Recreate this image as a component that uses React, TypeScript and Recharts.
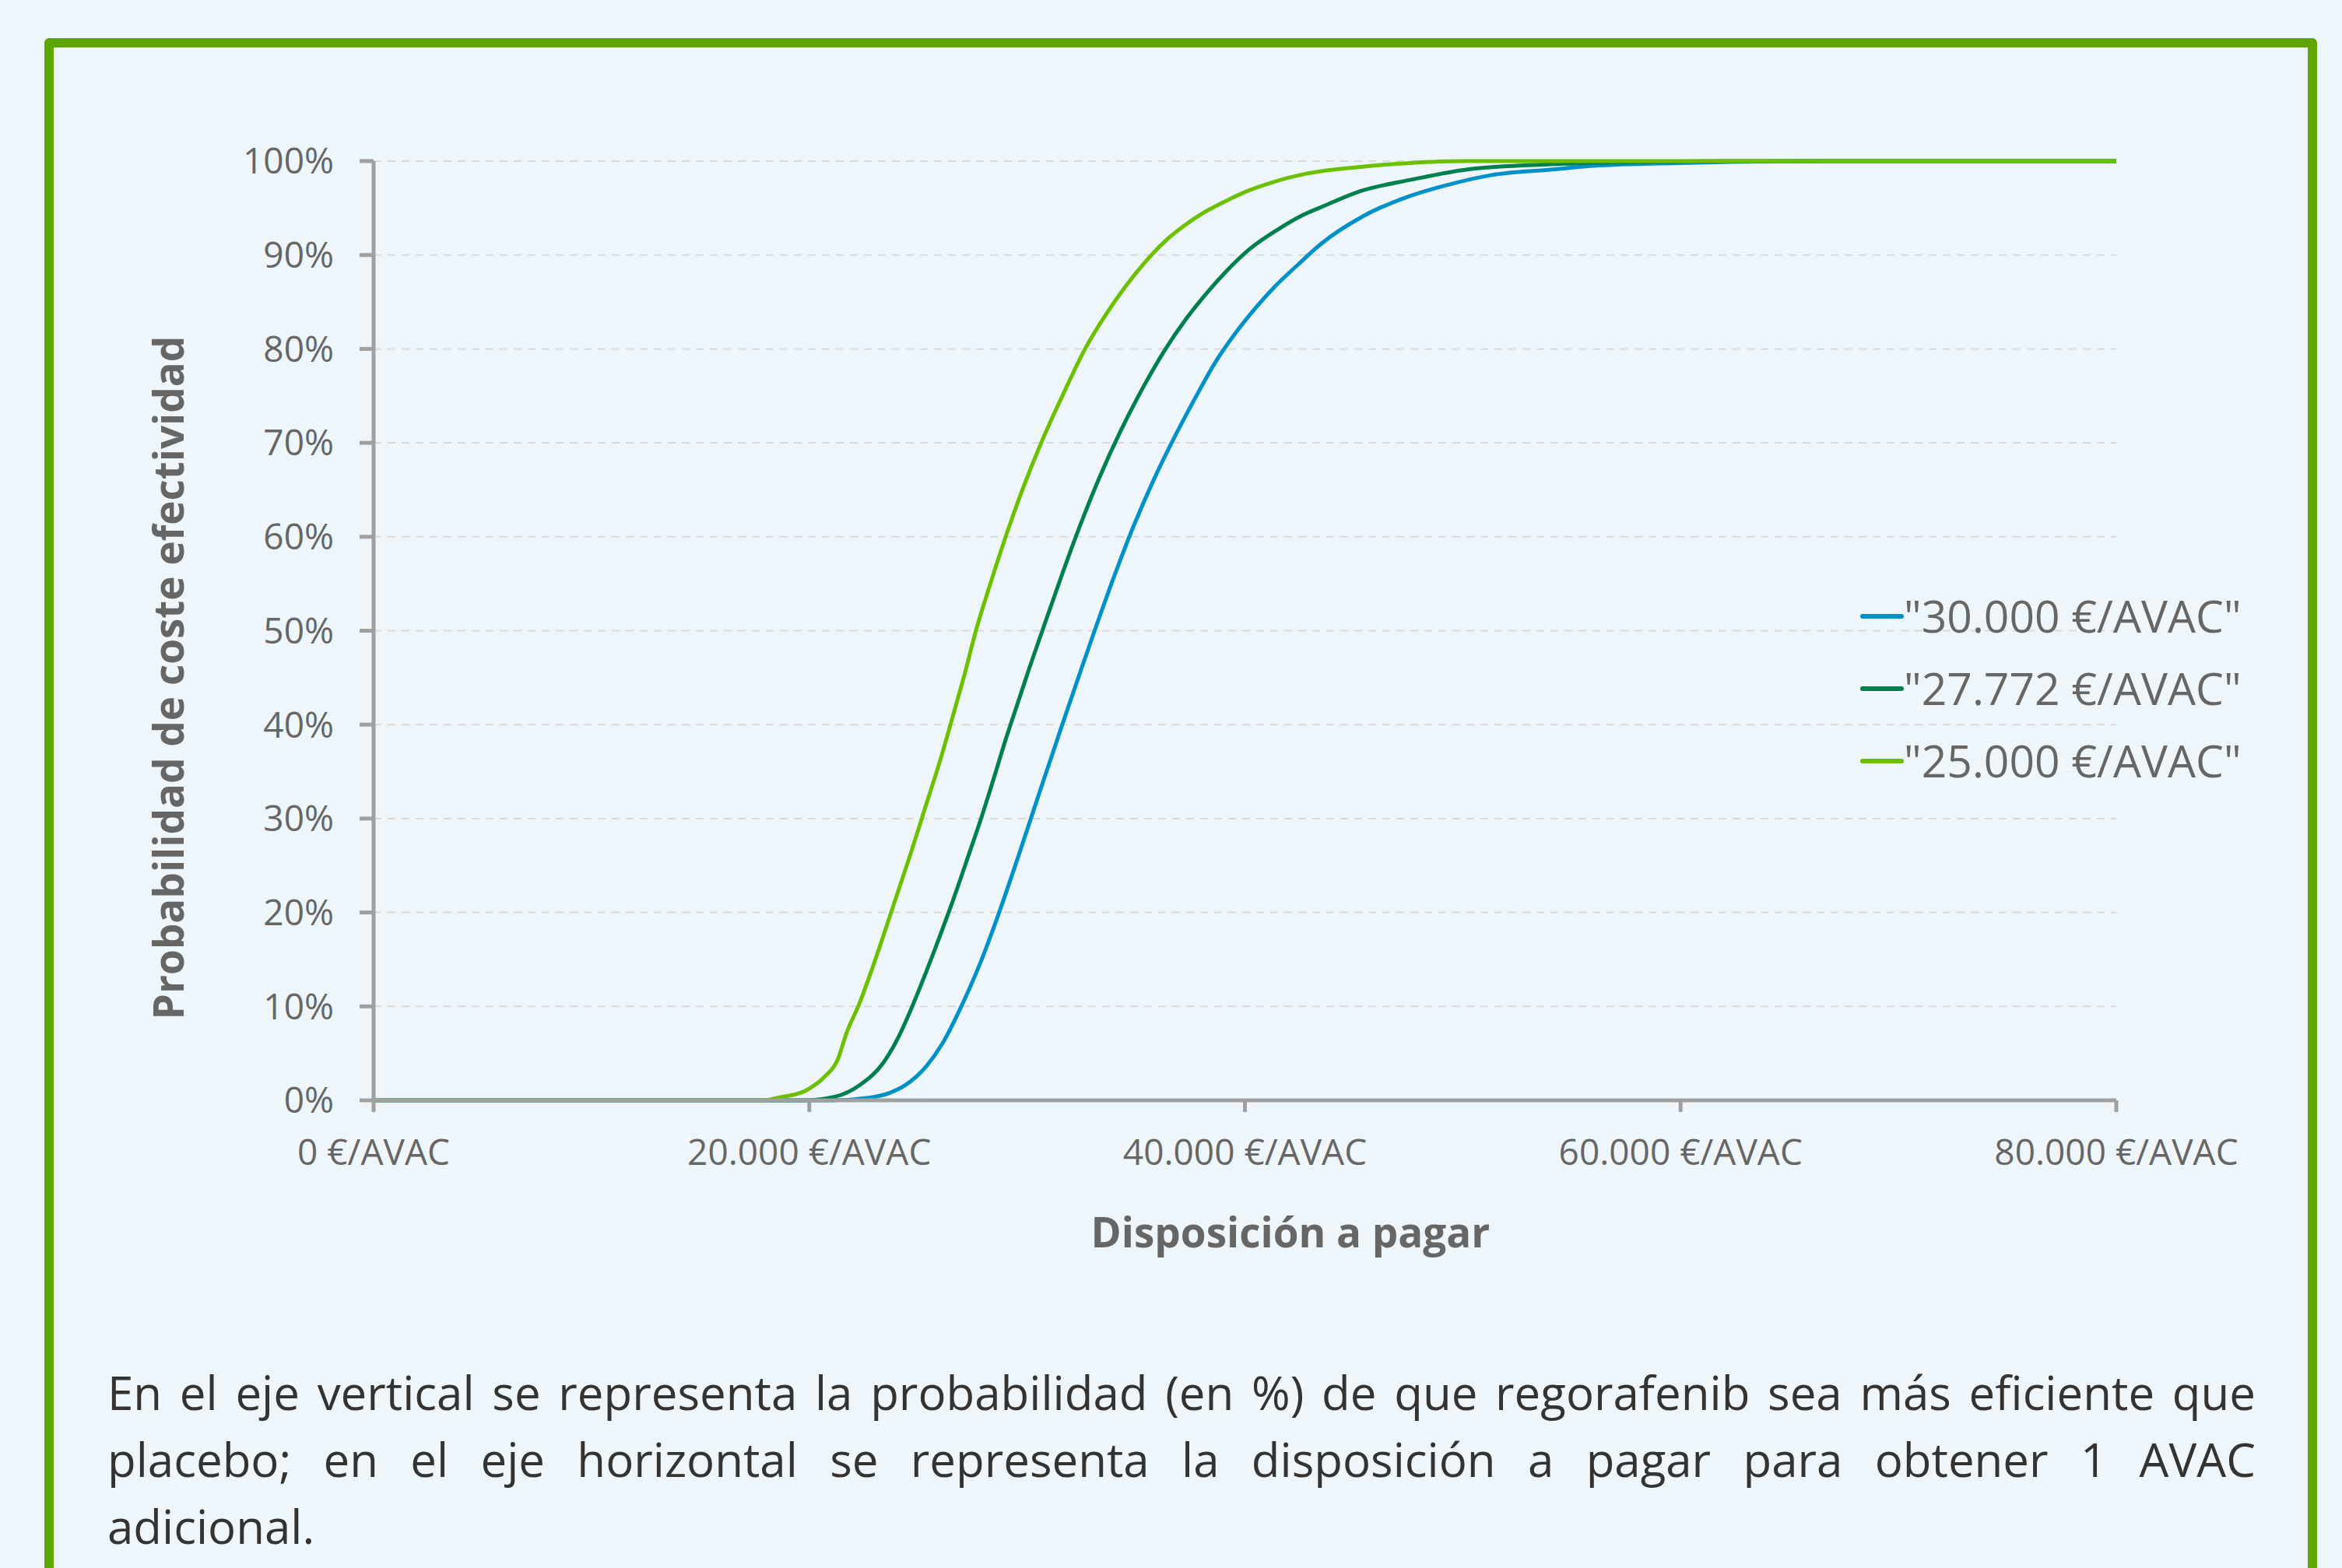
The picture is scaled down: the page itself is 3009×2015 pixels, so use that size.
import { LineChart, Line, XAxis, YAxis, CartesianGrid, Legend, Label } from 'recharts';

// willingness to pay (€/AVAC) and probability (%)
const wtp30 = [0, 21000, 22800, 23700, 24400, 25400, 26100, 27000, 27900, 28700, 29600, 30500, 31600, 32500, 33100, 34000, 34900, 35800, 36700, 37700, 38700, 39600, 40500, 41400, 42400, 43500, 45400, 47600, 49200, 51300, 54100, 56000, 60000, 67000, 80000];
const prob30 = [0, 0, 0.3, 0.8, 1.6, 3.7, 6, 10.1, 14.9, 19.9, 26, 32.3, 39.9, 46, 50, 55.8, 61.2, 66, 70.3, 74.7, 78.8, 81.8, 84.4, 86.7, 88.9, 91.2, 94.1, 96.3, 97.4, 98.5, 99.1, 99.5, 99.8, 100, 100];

const wtp27 = [0, 19800, 21200, 22300, 23400, 24000, 24600, 25200, 25900, 26600, 27300, 27900, 28500, 29000, 29600, 30100, 30700, 31500, 32400, 33300, 34300, 35300, 36300, 37300, 38300, 39200, 40200, 41500, 42700, 43600, 45300, 47600, 50500, 54600, 58300, 62000, 80000];
const prob27 = [0, 0, 0.4, 1.6, 4, 6.3, 9.3, 12.7, 16.9, 21.3, 26, 30.1, 34.5, 38.3, 42.5, 46, 50, 55.3, 61, 66.2, 71.3, 75.8, 79.8, 83.2, 86.1, 88.4, 90.6, 92.7, 94.3, 95.2, 96.8, 98, 99.2, 99.7, 99.9, 100, 100];

const wtp25 = [0, 17900, 18600, 19800, 20700, 21300, 21700, 22300, 22900, 23500, 24100, 24700, 25300, 26100, 26700, 27100, 27650, 28300, 29000, 29800, 30700, 31700, 32660, 33600, 34500, 35400, 36300, 37200, 38100, 39000, 40100, 41200, 42700, 45400, 47600, 50000, 80000];
const prob25 = [0, 0, 0.3, 1, 2.5, 4.3, 7.1, 10.3, 14.1, 18.2, 22.4, 26.6, 31, 36.9, 41.8, 45.1, 50, 54.9, 59.9, 65.1, 70.3, 75.4, 80, 83.6, 86.6, 89.2, 91.4, 93.1, 94.5, 95.6, 96.8, 97.7, 98.6, 99.4, 99.8, 100, 100];

const seriesNames = ['"30.000 €/AVAC"', '"27.772 €/AVAC"', '"25.000 €/AVAC"'];
const seriesColors = ['#0091c9', '#00804f', '#6cc000'];

const xTicks = [0, 20000, 40000, 60000, 80000];
const yTicks = [0, 10, 20, 30, 40, 50, 60, 70, 80, 90, 100];

const xTitle = 'Disposición a pagar';
const yTitle = 'Probabilidad de coste efectividad';

const captionLines = [
    'En el eje vertical se representa la probabilidad (en %) de que regorafenib sea más eficiente que',
    'placebo; en el eje horizontal se representa la disposición a pagar para obtener 1 AVAC',
    'adicional.',
];

const FONT = '"Open Sans", "Noto Sans", sans-serif';

const toPoints = (xs: number[], ys: number[]) => xs.map((x, i) => ({ x, y: ys[i] }));
const series = [toPoints(wtp30, prob30), toPoints(wtp27, prob27), toPoints(wtp25, prob25)];

const formatEuro = (v: number) => `${String(v).replace(/\B(?=(\d{3})+(?!\d))/g, '.')} €/AVAC`;

const renderLegend = (props: any) => {
    // keep the series order, recharts sorts by name otherwise
    const items = [...(props.payload || [])].sort(
        (a: any, b: any) => seriesNames.indexOf(a.value) - seriesNames.indexOf(b.value)
    );
    return (
        <div style={{ fontFamily: FONT }}>
            {items.map((p: any) => (
                <div key={p.value} style={{ display: 'flex', alignItems: 'center', height: 93 }}>
                    <svg width={56} height={12} style={{ display: 'block' }}>
                        <line x1={3} y1={6} x2={53} y2={6} stroke={p.color} strokeWidth={6} strokeLinecap="round" />
                    </svg>
                    <span style={{ fontSize: 57, color: '#666666', lineHeight: '93px', whiteSpace: 'nowrap' }}>{p.value}</span>
                </div>
            ))}
        </div>
    );
};

export default function App() {
    return (
        <div style={{ position: 'absolute', left: 0, top: 0, width: 3009, height: 2015, background: '#eef6fc', overflow: 'hidden' }}>
            {/* green frame, open at the bottom */}
            <div style={{
                position: 'absolute', left: 57, top: 49, width: 2920, height: 2100,
                boxSizing: 'border-box', border: '12px solid #5ea500', borderRadius: 6
            }} />

            <div style={{ position: 'absolute', left: 0, top: 0 }}>
                <LineChart width={3009} height={1700} margin={{ top: 207, right: 290, bottom: 136, left: 280 }}>
                    <CartesianGrid vertical={false} stroke="#d9d9d9" strokeWidth={2} strokeDasharray="10 8" />
                    <XAxis
                        dataKey="x" type="number" domain={[0, 80000]} ticks={xTicks} interval={0}
                        tickFormatter={formatEuro} height={150}
                        stroke="#a0a0a0" strokeWidth={5} tickSize={15} tickMargin={35}
                        tick={{ fontSize: 46, fill: '#666666', fontFamily: FONT }}
                    >
                        <Label content={() => (
                            <text x={1658} y={1603} textAnchor="middle" fontFamily={FONT} fontSize={53} fontWeight={700} fill="#666666">{xTitle}</text>
                        )} />
                    </XAxis>
                    <YAxis
                        type="number" domain={[0, 100]} ticks={yTicks} interval={0} width={200}
                        tickFormatter={(v: number) => `${v}%`}
                        stroke="#a0a0a0" strokeWidth={5} tickSize={18} tickMargin={33}
                        tick={{ fontSize: 46, fill: '#666666', fontFamily: FONT }}
                    >
                        <Label content={() => (
                            <text x={236} y={871} transform="rotate(-90, 236, 871)" textAnchor="middle" fontFamily={FONT} fontSize={53} fontWeight={700} fill="#666666">{yTitle}</text>
                        )} />
                    </YAxis>
                    <Legend
                        layout="vertical" align="center" verticalAlign="middle"
                        content={renderLegend}
                        wrapperStyle={{ left: 2390, top: 745, width: 580, height: 280 }}
                    />
                    {series.map((pts, i) => (
                        <Line
                            key={seriesNames[i]} data={pts} dataKey="y" name={seriesNames[i]}
                            type="monotone" stroke={seriesColors[i]} strokeWidth={5}
                            dot={false} activeDot={false} isAnimationActive={false}
                        />
                    ))}
                </LineChart>
            </div>

            <div style={{ position: 'absolute', left: 138, top: 1746, width: 2760, fontFamily: FONT, fontSize: 60, lineHeight: '86px', color: '#333333' }}>
                {captionLines.map((line, i) => (
                    <div key={i} style={i < captionLines.length - 1 ? { textAlign: 'justify', textAlignLast: 'justify' } : {}}>{line}</div>
                ))}
            </div>
        </div>
    );
}
